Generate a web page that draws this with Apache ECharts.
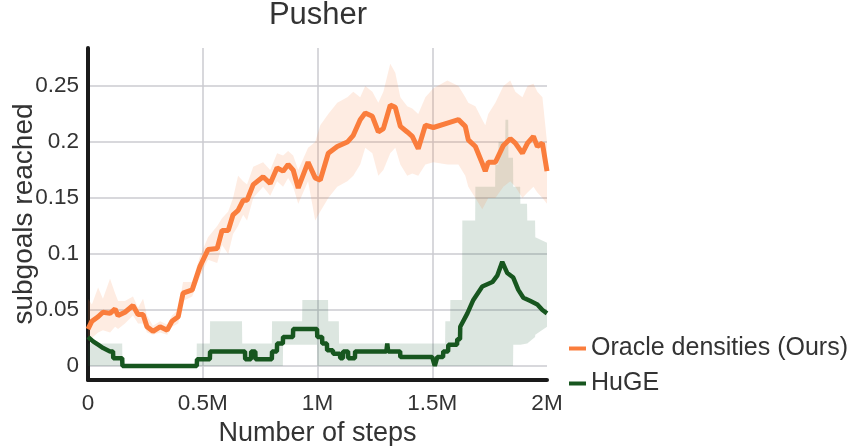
<!DOCTYPE html>
<html>
<head>
<meta charset="utf-8">
<script src="https://cdn.jsdelivr.net/npm/echarts@6/dist/echarts.min.js"></script>
<style>
  html, body { margin: 0; padding: 0; background: #fff; }
  #Pusher { width: 849px; height: 446px; }
</style>
</head>
<body>
<div id="Pusher"></div>
<script>
// steps are in millions
const oracleSteps = [0.000, 0.017, 0.044, 0.065, 0.096, 0.118, 0.131, 0.161, 0.196, 0.218, 0.240, 0.257, 0.283, 0.314, 0.345, 0.366, 0.393, 0.414, 0.454, 0.488, 0.523, 0.563, 0.584, 0.611, 0.632, 0.654, 0.676, 0.693, 0.720, 0.763, 0.794, 0.824, 0.850, 0.872, 0.894, 0.916, 0.959, 0.990, 1.012, 1.047, 1.086, 1.130, 1.156, 1.186, 1.208, 1.239, 1.265, 1.287, 1.317, 1.339, 1.361, 1.391, 1.413, 1.439, 1.470, 1.505, 1.566, 1.614, 1.644, 1.657, 1.688, 1.718, 1.731, 1.744, 1.775, 1.810, 1.840, 1.862, 1.893, 1.915, 1.941, 1.958, 1.980, 2.000];
const oracleMean = [0.033, 0.040, 0.044, 0.048, 0.047, 0.051, 0.045, 0.048, 0.054, 0.046, 0.046, 0.035, 0.031, 0.035, 0.032, 0.040, 0.044, 0.065, 0.068, 0.089, 0.104, 0.105, 0.121, 0.121, 0.135, 0.139, 0.148, 0.148, 0.162, 0.169, 0.163, 0.177, 0.174, 0.180, 0.175, 0.159, 0.182, 0.168, 0.166, 0.190, 0.196, 0.200, 0.206, 0.220, 0.226, 0.223, 0.209, 0.212, 0.233, 0.231, 0.214, 0.209, 0.205, 0.194, 0.215, 0.213, 0.217, 0.220, 0.214, 0.202, 0.196, 0.181, 0.174, 0.182, 0.182, 0.197, 0.203, 0.199, 0.190, 0.199, 0.205, 0.196, 0.199, 0.174];
const oracleLow = [0.022, 0.025, 0.030, 0.032, 0.030, 0.035, 0.033, 0.038, 0.045, 0.038, 0.038, 0.030, 0.028, 0.030, 0.028, 0.035, 0.038, 0.058, 0.062, 0.080, 0.095, 0.092, 0.108, 0.100, 0.118, 0.125, 0.135, 0.130, 0.150, 0.160, 0.152, 0.165, 0.160, 0.168, 0.160, 0.145, 0.165, 0.130, 0.138, 0.150, 0.160, 0.165, 0.170, 0.180, 0.195, 0.190, 0.170, 0.175, 0.190, 0.195, 0.180, 0.170, 0.172, 0.170, 0.180, 0.182, 0.180, 0.180, 0.170, 0.160, 0.150, 0.140, 0.145, 0.150, 0.150, 0.160, 0.165, 0.160, 0.150, 0.155, 0.160, 0.155, 0.150, 0.145];
const oracleHigh = [0.060, 0.055, 0.070, 0.060, 0.078, 0.065, 0.058, 0.058, 0.062, 0.052, 0.060, 0.045, 0.036, 0.040, 0.037, 0.045, 0.050, 0.075, 0.075, 0.098, 0.115, 0.125, 0.132, 0.138, 0.150, 0.170, 0.165, 0.162, 0.178, 0.182, 0.175, 0.190, 0.188, 0.192, 0.188, 0.175, 0.195, 0.200, 0.215, 0.225, 0.235, 0.240, 0.245, 0.240, 0.250, 0.245, 0.235, 0.245, 0.270, 0.262, 0.240, 0.232, 0.230, 0.225, 0.240, 0.248, 0.255, 0.250, 0.240, 0.235, 0.232, 0.220, 0.215, 0.225, 0.235, 0.250, 0.255, 0.245, 0.240, 0.250, 0.252, 0.245, 0.240, 0.200];

const hugeSteps = [0, 0.022, 0.044, 0.066, 0.096, 0.109, 0.110, 0.149, 0.150, 0.474, 0.475, 0.531, 0.532, 0.684, 0.685, 0.710, 0.711, 0.729, 0.730, 0.801, 0.802, 0.823, 0.824, 0.849, 0.850, 0.893, 0.894, 0.998, 0.999, 1.020, 1.021, 1.041, 1.042, 1.067, 1.068, 1.098, 1.099, 1.111, 1.112, 1.133, 1.134, 1.163, 1.164, 1.300, 1.304, 1.308, 1.360, 1.361, 1.500, 1.511, 1.522, 1.547, 1.548, 1.569, 1.570, 1.608, 1.609, 1.621, 1.622, 1.653, 1.679, 1.718, 1.762, 1.784, 1.805, 1.827, 1.853, 1.875, 1.897, 1.928, 1.958, 1.980, 2.000];
const hugeMean = [0.026, 0.022, 0.019, 0.016, 0.013, 0.013, 0.007, 0.007, 0, 0, 0.006, 0.006, 0.013, 0.013, 0.006, 0.006, 0.013, 0.013, 0.006, 0.006, 0.013, 0.013, 0.020, 0.020, 0.026, 0.026, 0.033, 0.033, 0.026, 0.026, 0.020, 0.020, 0.014, 0.014, 0.011, 0.011, 0.007, 0.007, 0.013, 0.013, 0.007, 0.007, 0.013, 0.013, 0.020, 0.013, 0.013, 0.008, 0.008, 0, 0.008, 0.008, 0.013, 0.013, 0.019, 0.019, 0.024, 0.024, 0.035, 0.047, 0.059, 0.071, 0.075, 0.081, 0.093, 0.083, 0.079, 0.068, 0.061, 0.058, 0.055, 0.050, 0.047];

const hugeBandSteps = [0.000, 0.149, 0.150, 0.473, 0.474, 0.531, 0.532, 0.671, 0.672, 0.801, 0.802, 0.849, 0.850, 0.933, 0.934, 0.998, 0.999, 1.046, 1.047, 1.093, 1.094, 1.556, 1.557, 1.578, 1.579, 1.630, 1.631, 1.687, 1.688, 1.774, 1.775, 1.788, 1.789, 1.818, 1.819, 1.831, 1.832, 1.852, 1.853, 1.883, 1.884, 1.913, 1.914, 1.948, 1.949, 2.000];
const hugeLow = [0, 0, 0, 0, 0, 0, 0, 0, 0, 0, 0, 0, 0.019, 0.019, 0.019, 0.019, 0, 0, 0, 0, 0, 0, 0, 0, 0, 0, 0, 0, 0, 0, 0, 0, 0, 0, 0, 0, 0, 0, 0.019, 0.019, 0.019, 0.020, 0.020, 0.026, 0.028, 0.035];
const hugeHigh = [0.020, 0.020, 0, 0, 0.020, 0.020, 0.040, 0.040, 0.020, 0.020, 0.040, 0.040, 0.040, 0.040, 0.059, 0.059, 0.059, 0.059, 0.040, 0.040, 0.020, 0.020, 0.040, 0.040, 0.059, 0.059, 0.130, 0.130, 0.160, 0.160, 0.180, 0.180, 0.200, 0.200, 0.220, 0.220, 0.186, 0.186, 0.160, 0.160, 0.145, 0.145, 0.130, 0.130, 0.115, 0.110];

const xTicks = ['0', '0.5M', '1M', '1.5M', '2M'];

var chartDom = document.getElementById('Pusher');
var myChart = echarts.init(chartDom);

function bandSeries(name, steps, low, high, color, z) {
    const data = steps.map((s, i) => [s, low[i], high[i]]);
    return {
        name: name,
        type: 'custom',
        z: z,
        silent: true,
        clip: true,
        encode: { x: 0, y: [1, 2] },
        data: data,
        renderItem: function (params, api) {
            if (params.dataIndex !== 0) return null;
            const pts = [];
            for (let i = 0; i < data.length; i++) pts.push(api.coord([data[i][0], data[i][2]]));
            for (let i = data.length - 1; i >= 0; i--) pts.push(api.coord([data[i][0], data[i][1]]));
            return {
                type: 'polygon',
                shape: { points: pts },
                style: { fill: color }
            };
        }
    };
}

var option = {
    animation: false,
    textStyle: { fontFamily: 'Liberation Sans' },
    title: {
        text: 'Pusher',
        left: 313,
        top: -5,
        textAlign: 'center',
        textStyle: { fontSize: 31, fontWeight: 'normal', color: '#333', fontFamily: 'Liberation Sans' }
    },
    legend: {
        orient: 'vertical',
        left: 564,
        top: 331,
        itemGap: 10,
        itemWidth: 17,
        itemHeight: 4,
        icon: 'rect',
        data: ['Oracle densities (Ours)', 'HuGE'],
        textStyle: { fontSize: 25, color: '#333', fontFamily: 'Liberation Sans' }
    },
    grid: { left: 88, right: 302, top: 48, bottom: 66, outerBoundsMode: 'none', containLabel: false },
    xAxis: {
        type: 'value',
        min: 0,
        max: 2,
        interval: 0.5,
        name: 'Number of steps',
        nameLocation: 'middle',
        nameGap: 40,
        nameMoveOverlap: false,
        nameTextStyle: { fontSize: 27, color: '#333' },
        axisLine: { onZero: false, lineStyle: { color: '#1a1a1a', width: 4 } },
        axisTick: { show: false },
        axisLabel: {
            fontSize: 22.5,
            color: '#333',
            margin: 12,
            formatter: function (v) { return xTicks[Math.round(v / 0.5)]; }
        },
        splitLine: { show: true, showMinLine: false, showMaxLine: false, lineStyle: { color: '#cbcbd0', width: 1.5 } }
    },
    yAxis: {
        type: 'value',
        min: -0.0125,
        max: 0.284,
        splitNumber: 5,
        offset: 2,
        name: 'subgoals reached',
        nameLocation: 'middle',
        nameGap: 48,
        nameMoveOverlap: false,
        nameTextStyle: { fontSize: 28, color: '#333' },
        axisLine: { show: true, lineStyle: { color: '#1a1a1a', width: 4 } },
        axisTick: { show: false },
        axisLabel: { fontSize: 22.5, color: '#333', margin: 7, showMinLabel: false, showMaxLabel: false },
        splitLine: { show: true, showMinLine: false, showMaxLine: false, lineStyle: { color: '#cbcbd0', width: 1.5 } }
    },
    series: [
        bandSeries('hugeBand', hugeBandSteps, hugeLow, hugeHigh, 'rgba(40, 100, 60, 0.16)', 1),
        bandSeries('oracleBand', oracleSteps, oracleLow, oracleHigh, 'rgba(250, 125, 60, 0.15)', 2),
        {
            name: 'HuGE',
            type: 'line',
            z: 3,
            showSymbol: false,
            data: hugeSteps.map((s, i) => [s, hugeMean[i]]),
            itemStyle: { color: '#17561f' },
            lineStyle: { color: '#17561f', width: 4.5 }
        },
        {
            name: 'Oracle densities (Ours)',
            type: 'line',
            z: 4,
            showSymbol: false,
            data: oracleSteps.map((s, i) => [s, oracleMean[i]]),
            itemStyle: { color: '#fa7d3c' },
            lineStyle: { color: '#fa7d3c', width: 5 }
        }
    ]
};

option && myChart.setOption(option);
</script>
</body>
</html>
